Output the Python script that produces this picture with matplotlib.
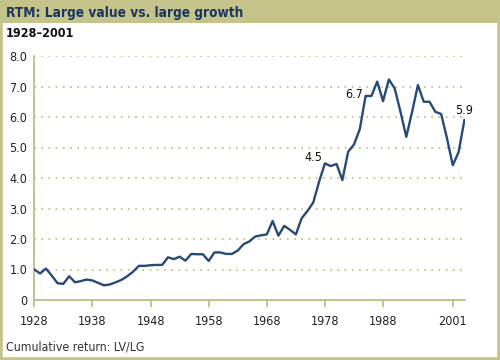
import matplotlib
matplotlib.use("Agg")
import matplotlib.pyplot as plt
from matplotlib.patches import Rectangle

# cumulative return of large value / large growth
years = list(range(1928, 2003))
ratio = [1.0, 0.87, 1.03, 0.8, 0.55, 0.53, 0.78, 0.58, 0.62, 0.67,
         0.64, 0.56, 0.48, 0.51, 0.58, 0.66, 0.78, 0.93, 1.12, 1.12,
         1.14, 1.15, 1.15, 1.4, 1.34, 1.42, 1.29, 1.51, 1.5, 1.5,
         1.28, 1.56, 1.56, 1.51, 1.51, 1.62, 1.83, 1.92, 2.08, 2.12,
         2.15, 2.59, 2.11, 2.43, 2.3, 2.15, 2.68, 2.92, 3.2, 3.88,
         4.48, 4.39, 4.46, 3.93, 4.86, 5.1, 5.6, 6.69, 6.69, 7.16,
         6.52, 7.23, 6.94, 6.17, 5.35, 6.17, 7.05, 6.5, 6.5, 6.17,
         6.1, 5.3, 4.42, 4.85, 5.9]

callout_years = [1978, 1985, 2002]
callout_text = ['4.5', '6.7', '5.9']

xtick_pos = [1928, 1938, 1948, 1958, 1968, 1978, 1988, 2000]
xtick_lab = ['1928', '1938', '1948', '1958', '1968', '1978', '1988', '2001']
ytick_pos = [0, 1, 2, 3, 4, 5, 6, 7, 8]
ytick_lab = ['0', '1.0', '2.0', '3.0', '4.0', '5.0', '6.0', '7.0', '8.0']

khaki = '#c3c38a'
axis_col = '#b9b97a'
navy = '#284a76'
title_col = '#1c3560'

plt.rcParams['font.family'] = ['DejaVu Sans']
plt.rcParams['font.stretch'] = 'condensed'

fig = plt.figure(figsize=(5, 3.6), dpi=100)
fig.patch.set_facecolor('white')

# frame and title band
fig.patches.append(Rectangle((0, 0), 1, 1, transform=fig.transFigure,
                             fill=False, edgecolor=khaki, linewidth=4))
fig.patches.append(Rectangle((0, 1 - 23 / 360), 1, 23 / 360, transform=fig.transFigure,
                             facecolor=khaki, edgecolor='none'))
fig.text(6 / 500, 1 - 12.5 / 360, 'RTM: Large value vs. large growth', fontsize=9.8,
         fontweight='bold', color=title_col, va='center', ha='left')
fig.text(6 / 500, 1 - 33.5 / 360, '1928\u20132001', fontsize=9, fontweight='bold',
         color='#111111', va='center', ha='left')
fig.text(6 / 500, 1 - 347 / 360, 'Cumulative return: LV/LG', fontsize=8.8,
         color='#333333', va='center', ha='left')

ax = fig.add_axes([34.3 / 500, 1 - 300 / 360, 430.7 / 500, 244 / 360])
ax.plot(years, ratio, color=navy, linewidth=1.7, solid_joinstyle='round', zorder=3)

for yv in ytick_pos[1:]:
    ax.axhline(yv, xmax=0.995, color='#c6c68a', linestyle=(0, (1, 3)), linewidth=1.3, zorder=1)

offsets = [(-8, 4), (-8, 1), (0, 7)]
for yr, txt, (dx, dy) in zip(callout_years, callout_text, offsets):
    ax.annotate(txt, (yr, ratio[years.index(yr)]), xytext=(dx, dy),
                textcoords='offset points', ha='center', va='center',
                fontsize=9, color='#111111')

ax.set_xlim(1928, 2002.1)
ax.set_ylim(0, 8)
ax.set_xticks(xtick_pos)
ax.set_xticklabels(xtick_lab)
ax.set_yticks(ytick_pos)
ax.set_yticklabels(ytick_lab)
ax.tick_params(axis='x', length=5, width=1.2, color=axis_col, pad=6, labelsize=9,
               labelcolor='#222222')
ax.tick_params(axis='y', length=0, pad=5, labelsize=9, labelcolor='#222222')
for side in ['top', 'right']:
    ax.spines[side].set_visible(False)
for side in ['left', 'bottom']:
    ax.spines[side].set_color(axis_col)
    ax.spines[side].set_linewidth(1.2)

fig.savefig('out.png', dpi=100)
